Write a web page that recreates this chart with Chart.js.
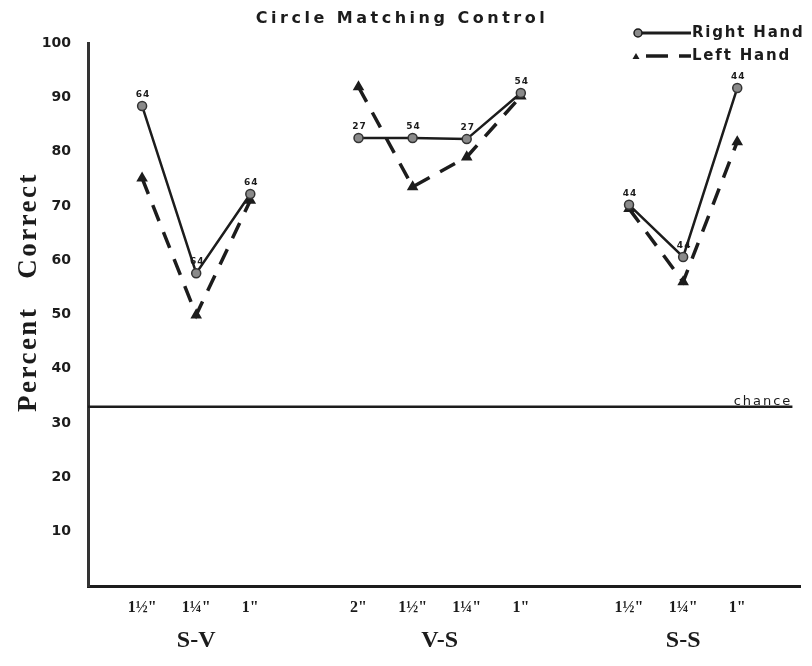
<!DOCTYPE html>
<html>
<head>
<meta charset="utf-8">
<script src="https://cdn.jsdelivr.net/npm/chart.js@4/dist/chart.umd.min.js"></script>
<style>
  html, body { margin: 0; padding: 0; background: #fff; }
  canvas { display: block; }
</style>
</head>
<body>
<canvas id="chart" width="812" height="666"></canvas>
<script>
// slot positions along the x axis (gaps at 3 and 8 separate the groups)
const SLOTS = [0, 1, 2, 4, 5, 6, 7, 9, 10, 11];
const TICK_LABELS = ['1½"', '1¼"', '1"', '2"', '1½"', '1¼"', '1"', '1½"', '1¼"', '1"'];
const GROUPS = ['S-V', 'V-S', 'S-S'];
const GROUP_CENTERS = [1, 5.5, 10];
const GAP_SLOTS = [3, 8];

const RIGHT_HAND = [88.4, 57.6, 72.2, 82.5, 82.5, 82.3, 90.8, 70.2, 60.6, 91.7];
const LEFT_HAND = [75.1, 49.9, 71, 91.9, 73.5, 79, 90.2, 69.5, 56, 81.8];
const RIGHT_N = ['64', '64', '64', '27', '54', '27', '54', '44', '44', '44'];
const CHANCE = 33;

const INK = '#1c1c1c';

function toPoints(values) {
  const pts = SLOTS.map((x, i) => ({ x, y: values[i] }));
  GAP_SLOTS.forEach(x => pts.push({ x, y: null }));
  return pts.sort((a, b) => a.x - b.x);
}

const overlay = {
  id: 'overlay',
  afterDraw(chart) {
    const ctx = chart.ctx;
    const xs = chart.scales.x;
    const ys = chart.scales.y;
    ctx.save();
    ctx.fillStyle = INK;
    ctx.strokeStyle = INK;

    // title
    ctx.font = 'bold 16px "DejaVu Sans"';
    ctx.letterSpacing = '3.5px';
    ctx.textAlign = 'center';
    ctx.textBaseline = 'middle';
    ctx.fillText('Circle Matching Control', 402, 19);

    // legend
    ctx.font = 'bold 15px "DejaVu Sans"';
    ctx.letterSpacing = '1.8px';
    ctx.textAlign = 'left';
    ctx.lineWidth = 3;
    ctx.beginPath(); ctx.moveTo(640, 33); ctx.lineTo(691, 33); ctx.stroke();
    ctx.beginPath(); ctx.arc(638, 33, 4, 0, Math.PI * 2);
    ctx.fillStyle = '#8a8a8a'; ctx.fill();
    ctx.lineWidth = 1.5; ctx.stroke();
    ctx.fillStyle = INK;
    ctx.fillText('Right Hand', 692, 33);
    ctx.beginPath(); ctx.moveTo(636, 53); ctx.lineTo(639.5, 59); ctx.lineTo(632.5, 59); ctx.closePath(); ctx.fill();
    ctx.lineWidth = 3.5;
    ctx.beginPath(); ctx.moveTo(646, 56); ctx.lineTo(668, 56); ctx.stroke();
    ctx.beginPath(); ctx.moveTo(679, 56); ctx.lineTo(691, 56); ctx.stroke();
    ctx.fillText('Left Hand', 692, 56);

    // chance label
    ctx.font = '13px "DejaVu Sans"';
    ctx.letterSpacing = '2px';
    ctx.textAlign = 'center';
    ctx.textBaseline = 'bottom';
    ctx.fillText('chance', 763, ys.getPixelForValue(CHANCE) + 1);

    // y axis title
    ctx.save();
    ctx.translate(29, 292);
    ctx.rotate(-Math.PI / 2);
    ctx.font = 'bold 27px "Liberation Serif"';
    ctx.letterSpacing = '2.5px';
    ctx.textBaseline = 'middle';
    ctx.fillText('Percent   Correct', 0, 0);
    ctx.restore();

    // group labels under the ticks
    ctx.font = 'bold 24px "Liberation Serif"';
    ctx.letterSpacing = '0px';
    ctx.textBaseline = 'middle';
    GROUPS.forEach((g, i) => ctx.fillText(g, xs.getPixelForValue(GROUP_CENTERS[i]), 641));

    // n labels above right-hand points
    ctx.font = 'bold 9px "DejaVu Sans"';
    ctx.letterSpacing = '1px';
    ctx.textBaseline = 'bottom';
    SLOTS.forEach((s, i) => {
      ctx.fillText(RIGHT_N[i], xs.getPixelForValue(s) + 1, ys.getPixelForValue(RIGHT_HAND[i]) - 7);
    });
    ctx.restore();
  }
};

new Chart(document.getElementById('chart'), {
  type: 'line',
  data: {
    datasets: [
      {
        label: 'Chance',
        data: [{ x: -1, y: CHANCE }, { x: 12.02, y: CHANCE }],
        borderColor: INK,
        borderWidth: 2.5,
        pointRadius: 0,
        order: 2,
      },
      {
        label: 'Left Hand',
        data: toPoints(LEFT_HAND),
        borderColor: INK,
        borderWidth: 3.5,
        borderDash: [17, 12],
        pointStyle: 'triangle',
        pointRadius: 3.2,
        pointBackgroundColor: INK,
        pointBorderColor: INK,
        spanGaps: false,
        order: 1,
      },
      {
        label: 'Right Hand',
        data: toPoints(RIGHT_HAND),
        borderColor: INK,
        borderWidth: 2.5,
        pointStyle: 'circle',
        pointRadius: 4.5,
        pointBorderWidth: 1.5,
        pointBackgroundColor: '#8a8a8a',
        pointBorderColor: '#333',
        spanGaps: false,
        order: 0,
      },
    ],
  },
  options: {
    responsive: false,
    animation: false,
    layout: { padding: { top: 43, right: 12, bottom: 0, left: 0 } },
    plugins: { legend: { display: false }, title: { display: false }, tooltip: { enabled: false } },
    scales: {
      x: {
        type: 'linear',
        min: -1,
        max: 12.16,
        afterFit(scale) { scale.height = 80; },
        afterBuildTicks(scale) { scale.ticks = SLOTS.map(v => ({ value: v })); },
        grid: { drawOnChartArea: false, drawTicks: false },
        border: { display: true, color: INK, width: 3 },
        ticks: {
          autoSkip: false,
          maxRotation: 0,
          padding: 12,
          color: INK,
          font: { family: 'Liberation Serif', weight: 'bold', size: 16 },
          callback: v => TICK_LABELS[SLOTS.indexOf(v)],
        },
      },
      y: {
        min: 0,
        max: 100,
        afterFit(scale) { scale.width = 88; },
        grid: { drawOnChartArea: false, drawTicks: false },
        border: { display: true, color: '#333', width: 3 },
        ticks: {
          stepSize: 10,
          padding: 17,
          color: INK,
          font: { family: 'DejaVu Sans', weight: 'bold', size: 14 },
          callback: v => (v === 0 ? '' : v),
        },
      },
    },
  },
  plugins: [overlay],
});
</script>
</body>
</html>
